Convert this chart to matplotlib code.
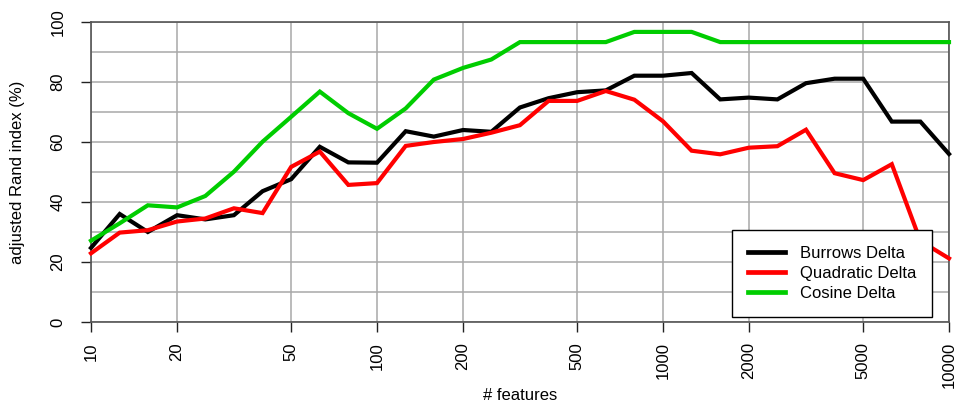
import numpy as np
import matplotlib
matplotlib.use("Agg")
import matplotlib.pyplot as plt
from matplotlib.ticker import FixedLocator, NullLocator

plt.rcParams['font.family'] = ['Liberation Sans', 'DejaVu Sans']

n_features = [10, 12.6, 15.8, 20, 25.1, 31.6, 39.8, 50.1, 63.1, 79.4,
              100, 126, 158, 200, 251, 316, 398, 501, 631, 794,
              1000, 1259, 1585, 1995, 2512, 3162, 3981, 5012, 6310, 7943, 10000]

burrows = [24.7, 36.0, 30.0, 35.6, 34.2, 35.6, 43.6, 47.6, 58.4, 53.2,
           53.1, 63.6, 61.8, 64.0, 63.4, 71.5, 74.6, 76.6, 77.2, 82.1,
           82.1, 83.0, 74.2, 74.8, 74.2, 79.6, 81.1, 81.1, 66.8, 66.8, 56.0]

quadratic = [22.9, 29.8, 30.6, 33.5, 34.5, 37.9, 36.3, 51.7, 56.8, 45.7,
             46.3, 58.7, 60.0, 61.0, 63.1, 65.6, 73.7, 73.7, 77.0, 74.1,
             66.9, 57.1, 55.9, 58.1, 58.6, 64.1, 49.6, 47.3, 52.6, 27.0, 21.2]

cosine = [27.1, 32.9, 38.9, 38.2, 42.0, 50.1, 60.1, 68.4, 76.8, 69.6,
          64.4, 71.2, 80.8, 84.7, 87.5, 93.3, 93.3, 93.3, 93.3, 96.7,
          96.7, 96.7, 93.3, 93.3, 93.3, 93.3, 93.3, 93.3, 93.3, 93.3, 93.3]

series_names = ["Burrows Delta", "Quadratic Delta", "Cosine Delta"]
series_colors = ["#000000", "#ff0000", "#00cd00"]

x_ticks = [10, 20, 50, 100, 200, 500, 1000, 2000, 5000, 10000]
y_ticks = [0, 20, 40, 60, 80, 100]

fig = plt.figure(figsize=(9.59, 4.05), dpi=100)
ax = fig.add_axes([91/959, 1-322/405, (949-91)/959, (322-22)/405])

ax.set_xscale('log')
ax.set_xlim(10, 10000)
ax.set_ylim(0, 100)

# grid
for xv in x_ticks:
    ax.axvline(xv, color='#a8a8a8', lw=1.1, zorder=1)
for yv in range(0, 101, 10):
    ax.axhline(yv, color='#a8a8a8', lw=1.1, zorder=1)

for vals, name, col in zip([burrows, quadratic, cosine], series_names, series_colors):
    ax.plot(n_features, vals, color=col, lw=3.0, label=name, zorder=3,
            solid_joinstyle='miter', clip_on=False)

ax.xaxis.set_major_locator(FixedLocator(x_ticks))
ax.xaxis.set_minor_locator(NullLocator())
ax.set_xticklabels([str(v) for v in x_ticks], rotation=90, fontsize=12)
ax.set_yticks(y_ticks)
ax.set_yticklabels([str(v) for v in y_ticks], rotation=90, va='center', fontsize=12)
ax.tick_params(axis='both', direction='out', length=7.5, width=1, color='#222222')
ax.tick_params(axis='x', pad=7)
ax.tick_params(axis='y', pad=11)

for s in ax.spines.values():
    s.set_color('#555555')
    s.set_linewidth(1.2)

ax.set_xlabel('# features', fontsize=12, va='center')
ax.xaxis.set_label_coords(0.5, -(396-322)/300)
ax.set_ylabel('adjusted Rand index (%)', fontsize=12, va='center')
ax.yaxis.set_label_coords((18-91)/858, 0.5)

leg = ax.legend(loc='lower right', bbox_to_anchor=(932/959, 1-317/405),
                bbox_transform=fig.transFigure, borderaxespad=0,
                fontsize=12, frameon=True,
                fancybox=False, edgecolor='black', framealpha=1,
                handlelength=2.2, borderpad=0.95, labelspacing=0.32, handletextpad=0.9)
leg.get_frame().set_linewidth(1.0)
leg.set_zorder(5)
for line in leg.get_lines():
    line.set_linewidth(3.4)

fig.savefig('out.png', dpi=100)
